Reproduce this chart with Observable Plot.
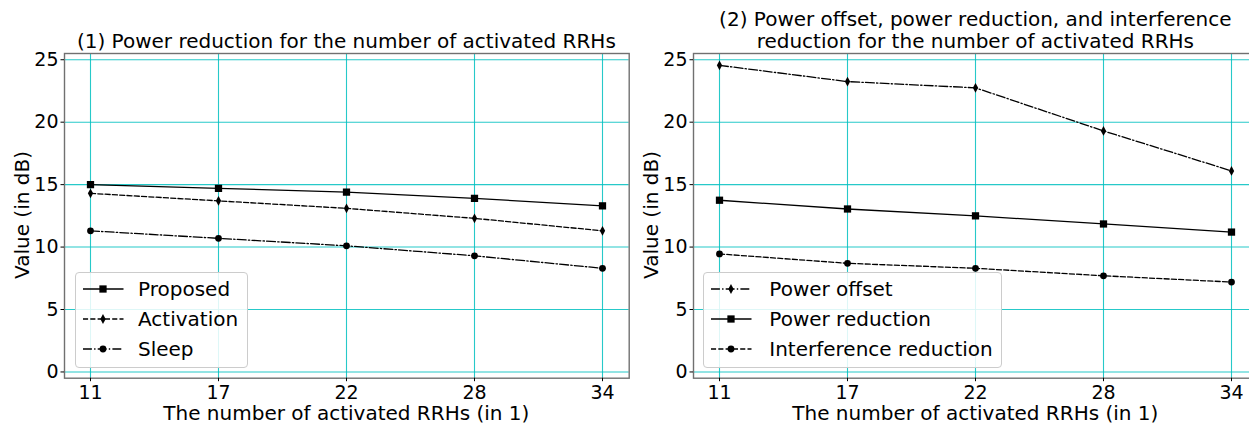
<!DOCTYPE html>
<html><head><meta charset="utf-8">
<script src="https://cdn.jsdelivr.net/npm/d3@7"></script>
<script src="https://cdn.jsdelivr.net/npm/@observablehq/plot@0.6"></script>
<style>
html,body{margin:0;padding:0;background:#fff;}
#root{position:relative;width:1249px;height:424px;overflow:hidden;font-family:"DejaVu Sans",sans-serif;color:#000;background:#fff;}
.title{font-size:20px;line-height:22px;text-align:center;white-space:nowrap;transform:translateX(-50%);}
.xlabel{font-size:20px;white-space:nowrap;line-height:18px;transform:translateX(-50%);}
.ylabel{font-size:20px;white-space:nowrap;line-height:22px;transform:translate(-50%,-50%) rotate(-90deg);}
.legend{border:1px solid #cccccc;border-radius:4px;background:rgba(255,255,255,0.85);box-sizing:border-box;}
.row{position:absolute;left:0;height:30px;width:100%;font-size:20px;}
.row svg{position:absolute;top:0;}
.row span{position:absolute;top:0;line-height:30px;white-space:nowrap;}
</style></head><body><div id="root"></div>
<script>
// ---- data ----
const rrhs = [11, 17, 22, 28, 34];
const yTicks = [0, 5, 10, 15, 20, 25];
const proposed = [15.0, 14.7, 14.4, 13.9, 13.3];
const activation = [14.3, 13.7, 13.1, 12.3, 11.3];
const sleep = [11.3, 10.7, 10.1, 9.3, 8.3];
const powerOffset = [24.55, 23.25, 22.75, 19.3, 16.1];
const powerReduction = [13.75, 13.05, 12.5, 11.85, 11.2];
const interferenceReduction = [9.45, 8.7, 8.3, 7.7, 7.2];
const title1 = "(1) Power reduction for the number of activated RRHs";
const title2a = "(2) Power offset, power reduction, and interference";
const title2b = "reduction for the number of activated RRHs";
const xLabel = "The number of activated RRHs (in 1)";
const yLabel = "Value (in dB)";

// ---- styles ----
const thinDiamond = {
  draw(context, size) {
    const r = Math.sqrt(size / Math.PI);
    const h = r * 1.15, w = r * 0.62;
    context.moveTo(0, -h); context.lineTo(w, 0); context.lineTo(0, h); context.lineTo(-w, 0); context.closePath();
  }
};
const SOLID = null, DASHED = "5.1,2.2", DASHDOT = "8.9,2.2,1.4,2.2";
const SQ = {symbol: d3.symbolSquare, r: 4.1};
const DI = {symbol: thinDiamond, r: 4.3};
const CI = {symbol: d3.symbolCircle, r: 3.4};

const leftSeries = [
  {name: "Proposed", values: proposed, dash: SOLID, ...SQ},
  {name: "Activation", values: activation, dash: DASHED, ...DI},
  {name: "Sleep", values: sleep, dash: DASHDOT, ...CI}
];
const rightSeries = [
  {name: "Power offset", values: powerOffset, dash: DASHDOT, ...DI},
  {name: "Power reduction", values: powerReduction, dash: SOLID, ...SQ},
  {name: "Interference reduction", values: interferenceReduction, dash: DASHED, ...CI}
];

const GRID = "#00bfbf";
const H = 424, MT = 53, MB = 424 - 377.7;

function chart(series, width, marginLeft, marginRight) {
  const marks = [
    Plot.gridX(rrhs, {stroke: GRID, strokeOpacity: 0.85, strokeWidth: 1.1}),
    Plot.gridY(yTicks, {stroke: GRID, strokeOpacity: 0.85, strokeWidth: 1.1}),
    Plot.frame({stroke: "#707070", strokeWidth: 1.4}),
    Plot.axisX(rrhs, {tickSize: 3.5, tickPadding: 4, label: null, fontSize: 19}),
    Plot.axisY(yTicks, {tickSize: 3.5, tickPadding: 2.5, label: null, fontSize: 19})
  ];
  for (const s of series) {
    const data = rrhs.map((r, i) => ({rrh: r, value: s.values[i]}));
    marks.push(Plot.line(data, {x: "rrh", y: "value", stroke: "black", strokeWidth: 1.3, strokeDasharray: s.dash}));
    marks.push(Plot.dot(data, {x: "rrh", y: "value", symbol: s.symbol, r: s.r, fill: "black", stroke: "none"}));
  }
  return Plot.plot({
    width, height: H, marginTop: MT, marginBottom: MB, marginLeft, marginRight,
    style: {fontFamily: "DejaVu Sans", fontSize: "19px", color: "black", background: "transparent", overflow: "visible"},
    x: {type: "point", domain: rrhs, padding: 0.2, label: null},
    y: {domain: [-0.5, 25.5], label: null},
    marks
  });
}

const root = document.getElementById("root");
function place(el, left, top) {
  el.style.position = "absolute"; el.style.left = left + "px"; el.style.top = top + "px";
  root.appendChild(el);
}
function div(cls, text) { const d = document.createElement("div"); d.className = cls; if (text != null) d.textContent = text; return d; }

// frames: left 64..628.7, right 693..1257.7
const p1 = chart(leftSeries, 646, 64, 646 - 628.7);
place(p1, 0, 0);
const p2 = chart(rightSeries, 612, 47, 612 - 47 - 564.7);
place(p2, 646, 0);

const c1 = (64 + 628.7) / 2, c2 = (693 + 1257.7) / 2;
place(div("title", title1), c1, 30);
const t2 = div("title"); t2.innerHTML = title2a + "<br>" + title2b; place(t2, c2, 8);
place(div("xlabel", xLabel), c1, 403.5);
place(div("xlabel", xLabel), c2, 403.5);
place(div("ylabel", yLabel), 22, 215.3);
place(div("ylabel", yLabel), 651, 215.3);

function legend(series, left, top, width, height, textLeft) {
  const box = div("legend");
  box.style.width = width + "px"; box.style.height = height + "px";
  series.forEach((s, i) => {
    const row = div("row");
    row.style.top = (1 + i * 30) + "px";
    const path = d3.symbol(s.symbol, Math.PI * s.r * s.r)();
    row.innerHTML =
      `<svg width="44" height="30" style="left:6px"><line x1="1" x2="41.5" y1="15" y2="15" stroke="black" stroke-width="1.3" ${s.dash ? `stroke-dasharray="${s.dash}"` : ""}/>` +
      `<path d="${path}" transform="translate(21,15)" fill="black"/></svg>` +
      `<span style="left:${textLeft}px"></span>`;
    row.querySelector("span").textContent = s.name;
    box.appendChild(row);
  });
  place(box, left, top);
}
legend(leftSeries, 75, 272.3, 173, 95.4, 62);
legend(rightSeries, 703.3, 272.3, 298.4, 95.4, 65);
</script></body></html>
